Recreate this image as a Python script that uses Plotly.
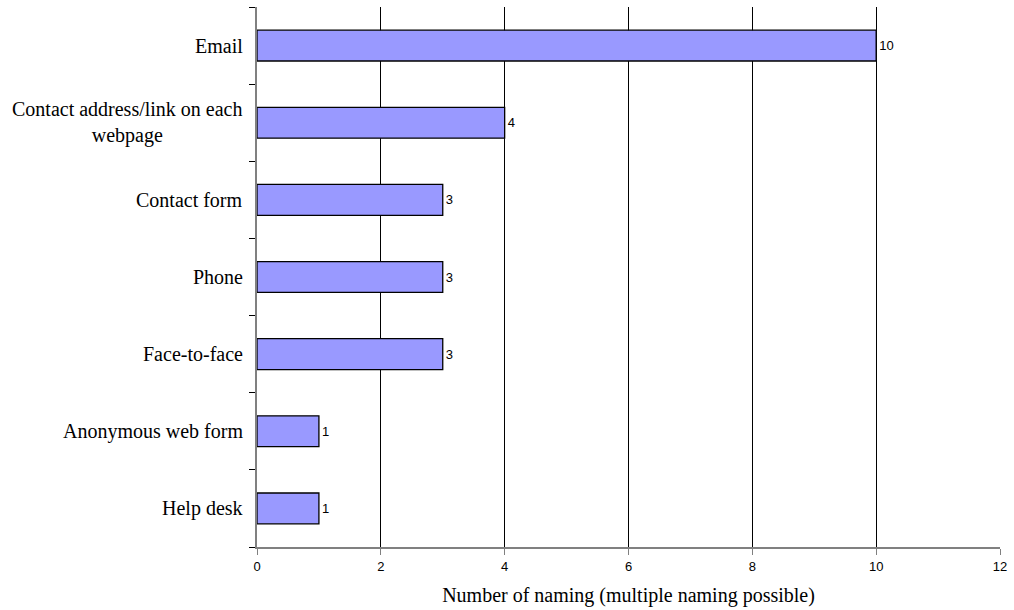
import plotly.graph_objects as go

categories = ["Email", "Contact address/link on each<br>webpage", "Contact form", "Phone",
              "Face-to-face", "Anonymous web form", "Help desk"]
values = [10, 4, 3, 3, 3, 1, 1]
x_ticks = [0, 2, 4, 6, 8, 10, 12]
x_title = "Number of naming (multiple naming possible)"

fig = go.Figure()
fig.add_trace(go.Bar(
    y=categories, x=values, orientation="h",
    marker=dict(color="#9999FF", line=dict(color="#000000", width=1.3)),
    text=[str(v) for v in values], textposition="outside",
    textfont=dict(family="Liberation Sans, Arial", size=13, color="#000000"),
    cliponaxis=False, width=0.4,
))

for c in categories:
    fig.add_annotation(
        x=0, xref="paper", y=c, yref="y", xanchor="right", yanchor="middle",
        xshift=-12, text=c, showarrow=False, align="center",
        font=dict(family="Liberation Serif, Times New Roman", size=20, color="#000000"),
    )

fig.update_layout(
    width=1014, height=610,
    margin=dict(l=257, r=9, t=7, b=62),
    plot_bgcolor="#FFFFFF", paper_bgcolor="#FFFFFF",
    showlegend=False,
    bargap=0.6,
    uniformtext=dict(mode=False),
)
fig.update_xaxes(
    range=[0, 12], tickvals=x_ticks, ticktext=[str(t) for t in x_ticks],
    showgrid=True, gridcolor="#000000", gridwidth=1,
    showline=True, linecolor="#808080", linewidth=2,
    ticks="outside", ticklen=6, tickcolor="#808080", tickwidth=1,
    tickfont=dict(family="Liberation Sans, Arial", size=13, color="#000000"),
    zeroline=False,
    title=dict(text=x_title, standoff=15,
               font=dict(family="Liberation Serif, Times New Roman", size=20, color="#000000")),
)
fig.update_yaxes(
    categoryorder="array", categoryarray=categories[::-1],
    showticklabels=False,
    showline=True, linecolor="#808080", linewidth=2,
    ticks="outside", ticklen=6, tickcolor="#000000", tickson="boundaries",
    showgrid=False, zeroline=False,
)
fig.write_html("out.html")
